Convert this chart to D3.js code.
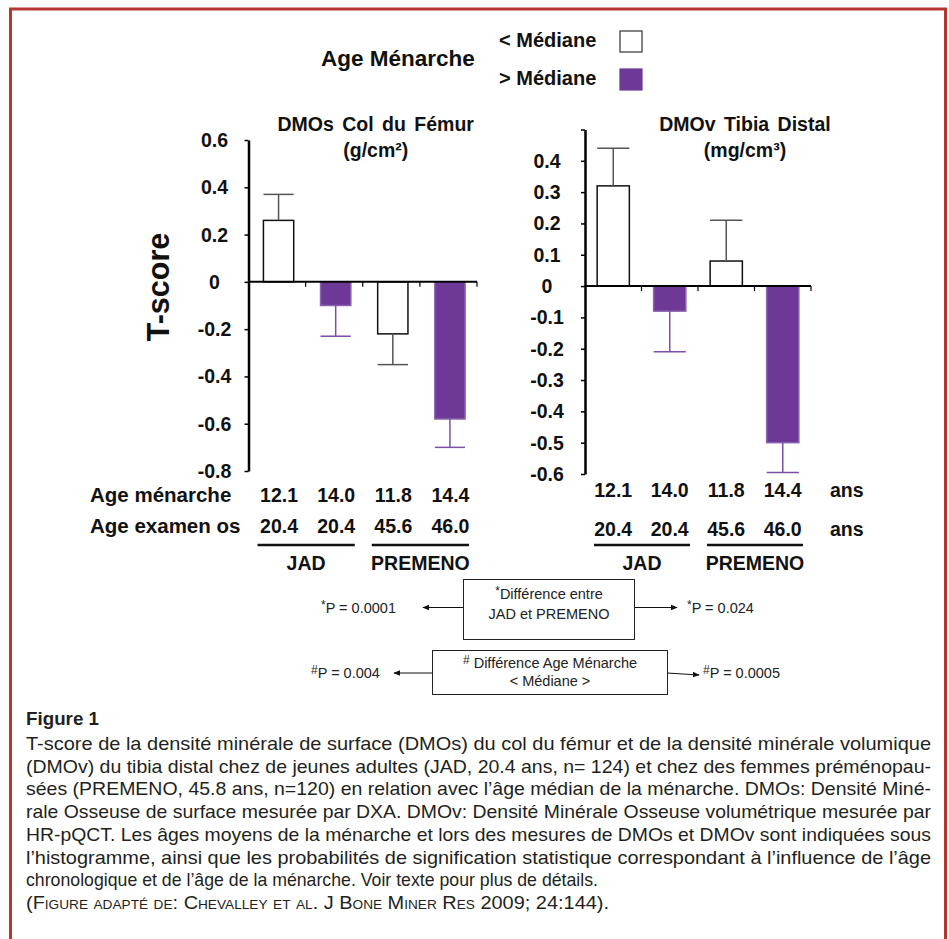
<!DOCTYPE html>
<html>
<head>
<meta charset="utf-8">
<script src="https://cdn.jsdelivr.net/npm/d3@7"></script>
<style>
  body { margin: 0; background: #fff; }
  svg { display: block; }
  .b { font-family: "Liberation Sans", Arial, sans-serif; font-weight: bold; fill: #111; }
  .r { font-family: "Liberation Sans", Arial, sans-serif; fill: #222; }
  .cap { font-family: "Liberation Sans Narrow", "Liberation Sans", Arial, sans-serif; fill: #231f20; }
</style>
</head>
<body>
<svg width="949" height="939"></svg>
<script>
// data
let categories = ['JAD <', 'JAD >', 'PREMENO <', 'PREMENO >'];
let medianSide = ['inf', 'sup', 'inf', 'sup'];
let femurMeans = [0.26, -0.10, -0.22, -0.58];
let femurErrors = [0.11, 0.13, 0.13, 0.12];
let tibiaMeans = [0.32, -0.08, 0.08, -0.50];
let tibiaErrors = [0.12, 0.13, 0.13, 0.095];
let femurTicks = [-0.8, -0.6, -0.4, -0.2, 0, 0.2, 0.4, 0.6];
let tibiaTicks = [-0.6, -0.5, -0.4, -0.3, -0.2, -0.1, 0, 0.1, 0.2, 0.3, 0.4, 0.5];
let ageMenarche = ['12.1', '14.0', '11.8', '14.4'];
let ageExam = ['20.4', '20.4', '45.6', '46.0'];
let groups = ['JAD', 'PREMENO'];
let pChrono = ['0.0001', '0.024'];
let pMenarche = ['0.004', '0.0005'];

let purple = '#6e3996';
let svg = d3.select('svg');

// frame
svg.append('rect')
  .attr('x', 10.5).attr('y', 9)
  .attr('width', 935).attr('height', 960)
  .attr('fill', 'none')
  .attr('stroke', '#b4372f')
  .attr('stroke-width', 3);

// legend
svg.append('text').attr('class', 'b')
  .attr('x', 321).attr('y', 66)
  .style('font-size', '22.5px')
  .text('Age Ménarche');

let legendItems = [{ label: '< Médiane', side: 'inf', y: 47 }, { label: '> Médiane', side: 'sup', y: 85 }];
legendItems.forEach(d => {
  svg.append('text').attr('class', 'b')
    .attr('x', 499).attr('y', d.y)
    .style('font-size', '20px')
    .text(d.label);
  svg.append('rect')
    .attr('x', 620).attr('y', d.y - 16)
    .attr('width', 22).attr('height', 21)
    .attr('fill', d.side == 'inf' ? '#fff' : purple)
    .attr('stroke', d.side == 'inf' ? '#333' : purple)
    .attr('stroke-width', 1.2);
});

// T-score label
svg.append('text').attr('class', 'b')
  .attr('transform', 'translate(169,287) rotate(-90)')
  .attr('text-anchor', 'middle')
  .style('font-size', '30.5px')
  .text('T-score');

function drawPanel(opt) {
  let x = d3.scaleBand()
    .domain(categories)
    .range(opt.xRange)
    .padding(0);

  let y = d3.scaleLinear()
    .domain(opt.yDomain)
    .range(opt.yRange);

  let g = svg.append('g');
  let bw = x.bandwidth() * opt.barFrac;

  // y axis
  let yAxis = d3.axisLeft(y)
    .tickValues(opt.ticks)
    .tickSize(4)
    .tickSizeOuter(0)
    .tickFormat('');
  let ya = g.append('g')
    .attr('transform', `translate(${opt.xRange[0]},0)`)
    .call(yAxis);
  ya.select('.domain').attr('stroke', '#000').attr('stroke-width', 2.5);
  ya.selectAll('.tick line').attr('stroke', '#000').attr('stroke-width', 1.5);

  g.selectAll('.ylab')
    .data(opt.ticks.filter(t => t <= opt.maxLabel + 1e-9))
    .enter()
    .append('text')
    .attr('class', 'b')
    .attr('x', opt.xRange[0] - opt.labelOffset)
    .attr('y', d => y(d) + 7)
    .attr('text-anchor', 'middle')
    .style('font-size', '19.5px')
    .text(d => d == 0 ? '0' : d3.format('.1f')(d).replace('−', '-'));

  // bars
  g.selectAll('.bar')
    .data(categories)
    .enter()
    .append('rect')
    .attr('x', (d) => x(d) + x.bandwidth() / 2 - bw / 2 + opt.barShift)
    .attr('width', bw)
    .attr('y', (d, i) => y(Math.max(0, opt.means[i])))
    .attr('height', (d, i) => Math.abs(y(opt.means[i]) - y(0)))
    .attr('fill', (d, i) => medianSide[i] == 'inf' ? '#fff' : purple)
    .attr('stroke', (d, i) => medianSide[i] == 'inf' ? '#111' : '#8a62ad')
    .attr('stroke-width', 1.5);

  // error bars
  categories.forEach((c, i) => {
    let m = opt.means[i];
    let e = m >= 0 ? m + opt.errors[i] : m - opt.errors[i];
    let cx = x(c) + x.bandwidth() / 2 + opt.barShift;
    let col = medianSide[i] == 'inf' ? '#555' : '#7d4fa6';
    g.append('line')
      .attr('x1', cx).attr('x2', cx)
      .attr('y1', y(m)).attr('y2', y(e))
      .attr('stroke', col).attr('stroke-width', 1.5);
    g.append('line')
      .attr('x1', cx - bw / 2).attr('x2', cx + bw / 2)
      .attr('y1', y(e)).attr('y2', y(e))
      .attr('stroke', col).attr('stroke-width', 1.5);
  });

  // zero line and category ticks
  g.append('line')
    .attr('x1', opt.xRange[0]).attr('x2', opt.xRange[1])
    .attr('y1', y(0)).attr('y2', y(0))
    .attr('stroke', '#000').attr('stroke-width', 2);
  g.selectAll('.xt')
    .data(categories)
    .enter()
    .append('line')
    .attr('x1', d => x(d) + x.bandwidth()).attr('x2', d => x(d) + x.bandwidth())
    .attr('y1', y(0)).attr('y2', y(0) + 5)
    .attr('stroke', '#000').attr('stroke-width', 1.2);

  // titles
  let tx = (opt.xRange[0] + opt.xRange[1]) / 2 + opt.titleShift;
  g.append('text').attr('class', 'b')
    .attr('x', tx).attr('y', 131)
    .attr('text-anchor', 'middle')
    .style('font-size', '19.5px')
    .style('word-spacing', '3px')
    .text(opt.title);
  g.append('text').attr('class', 'b')
    .attr('x', tx).attr('y', 157)
    .attr('text-anchor', 'middle')
    .style('font-size', '19.5px')
    .text(opt.unit);

  // age rows
  g.selectAll('.am')
    .data(ageMenarche)
    .enter()
    .append('text').attr('class', 'b')
    .attr('x', (d, i) => x(categories[i]) + x.bandwidth() / 2 + opt.labelShift)
    .attr('y', opt.row1)
    .attr('text-anchor', 'middle')
    .style('font-size', '19.5px')
    .text(d => d);
  g.selectAll('.ae')
    .data(ageExam)
    .enter()
    .append('text').attr('class', 'b')
    .attr('x', (d, i) => x(categories[i]) + x.bandwidth() / 2 + opt.labelShift)
    .attr('y', opt.row2)
    .attr('text-anchor', 'middle')
    .style('font-size', '19.5px')
    .text(d => d);

  // group underlines
  groups.forEach((gr, k) => {
    let a = x(categories[k * 2]) + 9;
    let b = x(categories[k * 2 + 1]) + x.bandwidth() - 8;
    g.append('line')
      .attr('x1', a).attr('x2', b)
      .attr('y1', 545).attr('y2', 545)
      .attr('stroke', '#111').attr('stroke-width', 2.5);
    g.append('text').attr('class', 'b')
      .attr('x', (a + b) / 2).attr('y', 570)
      .attr('text-anchor', 'middle')
      .style('font-size', '19.5px')
      .text(gr);
  });
}

drawPanel({
  xRange: [248.5, 477], yDomain: [-0.8, 0.6], yRange: [471, 140],
  ticks: femurTicks, maxLabel: 0.6, labelOffset: 34,
  means: femurMeans, errors: femurErrors, barFrac: 0.53, barShift: 1.5,
  title: 'DMOs Col du Fémur', unit: '(g/cm²)', titleShift: 13,
  row1: 502, row2: 533, labelShift: 2
});

drawPanel({
  xRange: [585, 811], yDomain: [-0.6, 0.5], yRange: [474, 129.5],
  ticks: tibiaTicks, maxLabel: 0.4, labelOffset: 38,
  means: tibiaMeans, errors: tibiaErrors, barFrac: 0.57, barShift: 0,
  title: 'DMOv Tibia Distal', unit: '(mg/cm³)', titleShift: 47,
  row1: 497, row2: 536, labelShift: 0
});

// row labels
svg.append('text').attr('class', 'b')
  .attr('x', 90).attr('y', 502)
  .style('font-size', '20.5px')
  .text('Age ménarche');
svg.append('text').attr('class', 'b')
  .attr('x', 90).attr('y', 533)
  .style('font-size', '20.5px')
  .text('Age examen os');
[497, 536].forEach(yy => {
  svg.append('text').attr('class', 'b')
    .attr('x', 830).attr('y', yy)
    .style('font-size', '19.5px')
    .text('ans');
});

// significance boxes
svg.append('defs').append('marker')
  .attr('id', 'arr')
  .attr('viewBox', '0 0 10 10')
  .attr('refX', 9).attr('refY', 5)
  .attr('markerWidth', 7).attr('markerHeight', 7)
  .attr('markerUnits', 'userSpaceOnUse')
  .attr('orient', 'auto')
  .append('path')
  .attr('d', 'M0,1 L10,5 L0,9 Z')
  .attr('fill', '#111');

function arrow(x1, y1, x2, y2) {
  svg.append('line')
    .attr('x1', x1).attr('y1', y1).attr('x2', x2).attr('y2', y2)
    .attr('stroke', '#111').attr('stroke-width', 1)
    .attr('marker-end', 'url(#arr)');
}

function pText(x, y, sym, val) {
  let t = svg.append('text').attr('class', 'r')
    .attr('x', x).attr('y', y)
    .style('font-size', '14.5px');
  t.append('tspan').attr('dy', -4).style('font-size', '12px').text(sym);
  t.append('tspan').attr('dy', 4).text('P = ' + val);
}

svg.append('rect')
  .attr('x', 463.5).attr('y', 579.5).attr('width', 171).attr('height', 60)
  .attr('fill', '#fff').attr('stroke', '#222').attr('stroke-width', 1);
let t1 = svg.append('text').attr('class', 'r')
  .attr('x', 549).attr('y', 599).attr('text-anchor', 'middle')
  .style('font-size', '14.5px');
t1.append('tspan').attr('dy', -4).style('font-size', '12px').text('*');
t1.append('tspan').attr('dy', 4).text('Différence entre');
svg.append('text').attr('class', 'r')
  .attr('x', 549).attr('y', 619).attr('text-anchor', 'middle')
  .style('font-size', '14.5px')
  .text('JAD et PREMENO');
arrow(463, 607.5, 423, 607.5);
arrow(635, 607.5, 677, 607.5);
pText(321, 612.5, '*', pChrono[0]);
pText(687, 612.5, '*', pChrono[1]);

svg.append('rect')
  .attr('x', 432.5).attr('y', 650.5).attr('width', 235).attr('height', 44)
  .attr('fill', '#fff').attr('stroke', '#222').attr('stroke-width', 1);
let t2 = svg.append('text').attr('class', 'r')
  .attr('x', 550).attr('y', 668).attr('text-anchor', 'middle')
  .style('font-size', '14.5px');
t2.append('tspan').attr('dy', -4).style('font-size', '12px').text('#');
t2.append('tspan').attr('dy', 4).text(' Différence Age Ménarche');
svg.append('text').attr('class', 'r')
  .attr('x', 550).attr('y', 686).attr('text-anchor', 'middle')
  .style('font-size', '14.5px')
  .text('< Médiane >');
arrow(432, 673, 394, 673);
arrow(667, 673, 699, 675);
pText(311, 678, '#', pMenarche[0]);
pText(703, 678, '#', pMenarche[1]);

// caption
svg.append('text').attr('class', 'cap')
  .attr('x', 26).attr('y', 725)
  .style('font-size', '19px').style('font-weight', 'bold')
  .attr('textLength', 73).attr('lengthAdjust', 'spacingAndGlyphs')
  .text('Figure 1');

let captionLines = [
  'T-score de la densité minérale de surface (DMOs) du col du fémur et de la densité minérale volumique',
  '(DMOv) du tibia distal chez de jeunes adultes (JAD, 20.4 ans, n= 124) et chez des femmes préménopau-',
  'sées (PREMENO, 45.8 ans, n=120) en relation avec l’âge médian de la ménarche. DMOs: Densité Miné-',
  'rale Osseuse de surface mesurée par DXA. DMOv: Densité Minérale Osseuse volumétrique mesurée par',
  'HR-pQCT. Les âges moyens de la ménarche et lors des mesures de DMOs et DMOv sont indiquées sous',
  'l’histogramme, ainsi que les probabilités de signification statistique correspondant à l’influence de l’âge',
  'chronologique et de l’âge de la ménarche. Voir texte pour plus de détails.'
];
let captionWidths = [905, 905, 905, 905, 905, 905, 572];
captionLines.forEach((line, i) => {
  svg.append('text').attr('class', 'cap')
    .attr('x', 26).attr('y', 750 + i * 22.7)
    .style('font-size', '19px')
    .attr('textLength', captionWidths[i])
    .attr('lengthAdjust', 'spacingAndGlyphs')
    .text(line);
});
svg.append('text').attr('class', 'cap')
  .attr('x', 26).attr('y', 750 + 7 * 22.7)
  .style('font-size', '19px')
  .style('font-variant', 'small-caps')
  .attr('textLength', 583)
  .attr('lengthAdjust', 'spacingAndGlyphs')
  .text('(Figure adapté de: Chevalley et al. J Bone Miner Res 2009; 24:144).');
</script>
</body>
</html>
